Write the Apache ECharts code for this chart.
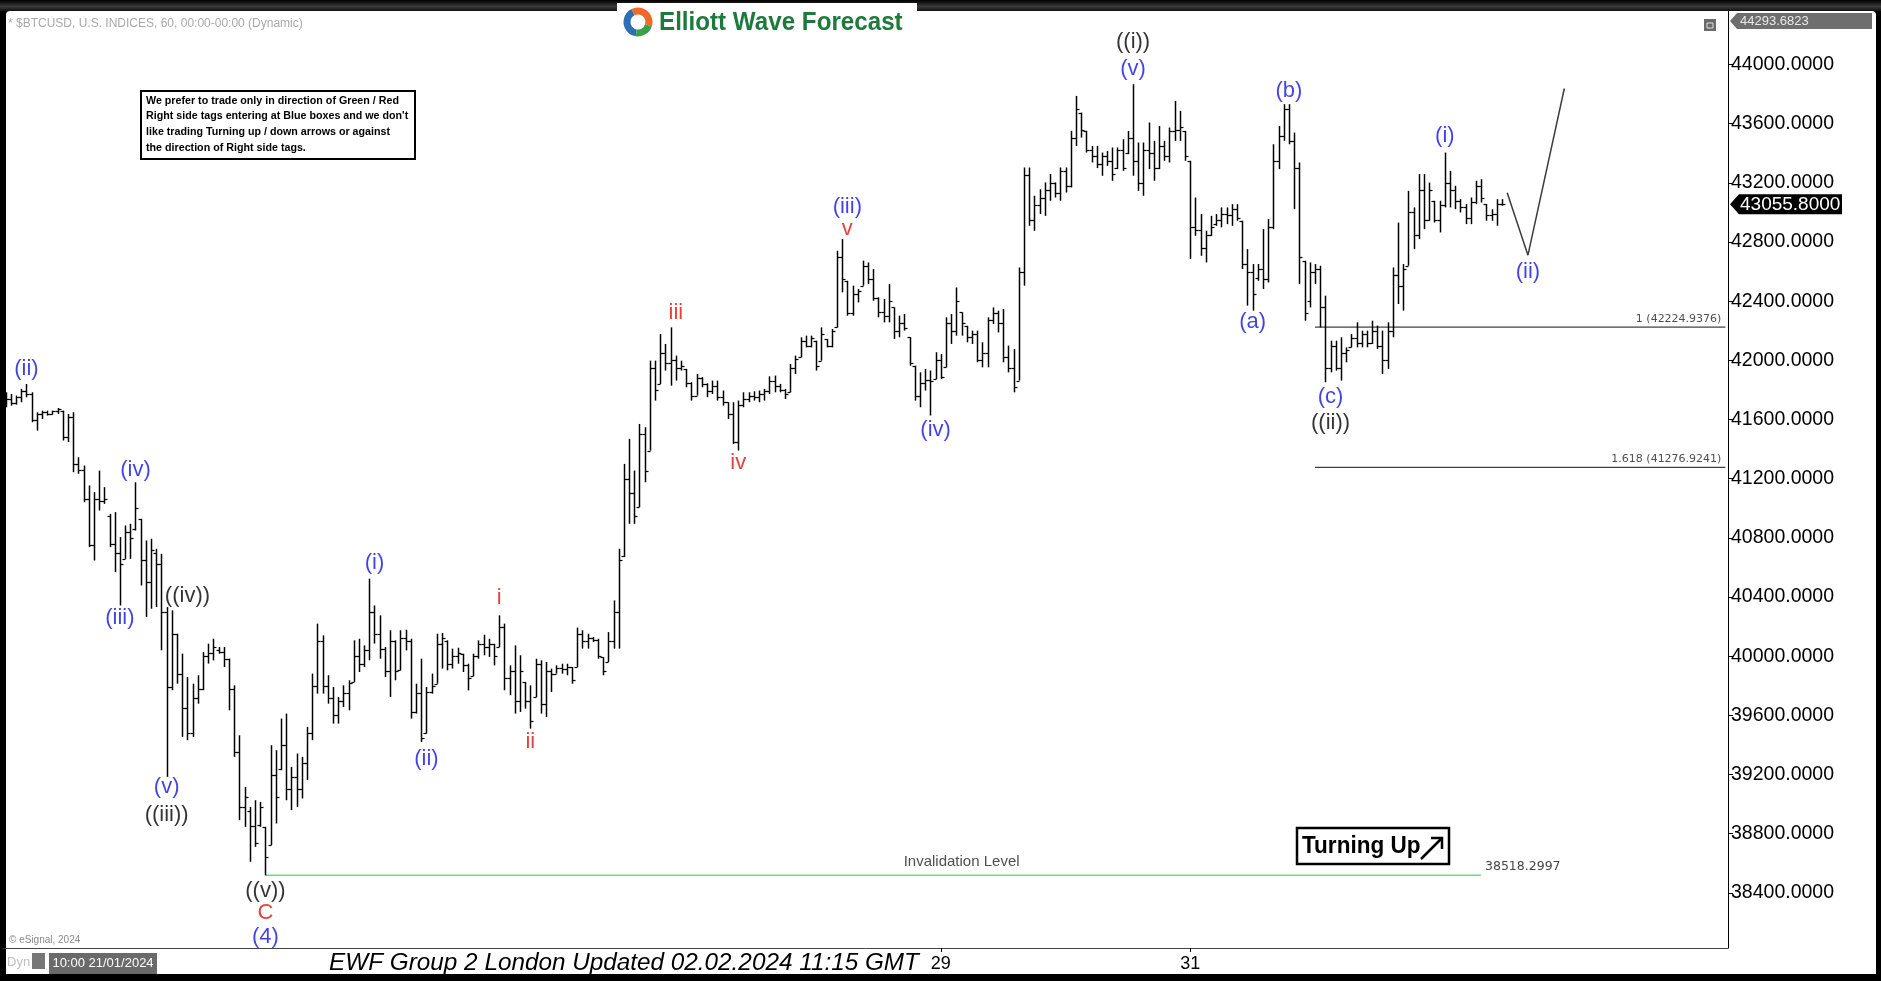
<!DOCTYPE html>
<html><head><meta charset="utf-8">
<script src="https://cdn.jsdelivr.net/npm/echarts@6/dist/echarts.min.js"></script>
<style>html,body{margin:0;padding:0;background:#000;}#c{width:1881px;height:981px;}</style>
</head><body><div id="c"></div>
<script>
// ---------- DATA ----------
const highs = [
41784,41773,41762,41807,41840,41784,41649,41660,41660,41660,
41678,41660,41638,41649,41345,41289,41154,41109,41255,41143,
40962,40974,40805,40884,40895,41176,40929,40782,40794,40726,
40692,40332,40310,40152,40017,39859,39814,39871,40028,40085,
40118,40062,40062,39983,39803,39465,39116,38981,39026,39015,
38846,39398,39364,39578,39612,39252,39342,39319,39522,39882,
40220,40141,39871,39792,39724,39803,39837,40107,40118,40073,
40524,40343,40276,40062,40175,40107,40175,40179,40118,39814,
39983,39792,39882,40152,40157,40107,40051,40057,40017,39949,
40017,40107,40145,40118,40084,40276,40220,39938,40073,40006,
39826,39803,39983,39972,39961,39916,39938,39949,39949,39927,
40193,40175,40152,40130,40118,39994,40163,40377,40726,41300,
41469,41255,41570,41548,41998,41998,42178,42111,42223,42032,
41998,41942,41852,41908,41886,41845,41863,41863,41796,41717,
41717,41728,41784,41784,41791,41796,41807,41892,41897,41841,
41807,41976,42032,42156,42167,42167,42133,42223,42145,42212,
42741,42820,42538,42505,42482,42674,42662,42617,42426,42415,
42516,42358,42302,42313,42156,41964,41919,41942,41931,42055,
42043,42291,42313,42493,42324,42234,42201,42201,42122,42291,
42358,42336,42347,42100,42077,42628,43304,43304,43113,43157,
43203,43259,43203,43304,43304,43552,43788,43675,43552,43450,
43450,43405,43416,43439,43439,43495,43551,43867,43473,43473,
43608,43484,43585,43484,43574,43754,43687,43551,43349,43101,
42989,42876,42977,42989,43034,43034,43056,43056,42944,42752,
42651,42651,42887,42955,43461,43585,43732,43732,43540,43338,
42673,42662,42651,42640,42437,42133,42133,42156,42088,42178,
42257,42201,42201,42268,42235,42201,42257,42628,42932,42651,
43146,43034,43259,43259,43202,43079,43079,43405,43281,43180,
43090,43056,43101,43214,43225,43056,43022,43090,43090];
const lows = [
41683,41694,41701,41717,41750,41582,41525,41604,41627,41633,
41638,41458,41447,41244,41233,41041,40737,40647,40985,41030,
40737,40568,40343,40658,40658,40850,40478,40265,40321,40332,
40040,39184,39770,39814,39454,39432,39454,39679,39770,39950,
39972,40017,39927,39634,39319,38891,38846,38610,38711,38846,
38518,38723,38869,39229,39026,38959,38981,39038,39162,39432,
39747,39747,39679,39544,39544,39657,39634,39826,39893,39927,
39972,40085,39983,39859,39724,39837,39904,40039,39578,39612,
39420,39477,39747,39814,39916,39904,39916,39949,39893,39769,
39864,39983,40006,39995,39938,40062,39769,39736,39612,39623,
39645,39510,39724,39612,39589,39758,39882,39882,39871,39814,
39927,40051,40051,40096,39983,39871,39961,40051,40051,40670,
40895,40895,41008,41176,41390,41728,41840,41931,41829,41863,
41931,41818,41728,41762,41818,41751,41773,41728,41694,41604,
41435,41390,41683,41717,41728,41717,41728,41773,41784,41784,
41739,41784,41908,42021,42088,42088,41931,41998,42088,42088,
42223,42460,42302,42302,42392,42505,42516,42403,42291,42257,
42257,42145,42156,42201,41964,41728,41683,41796,41627,41874,
41874,41953,42111,42167,42167,42122,42111,41987,41953,41953,
42246,42189,41987,41919,41784,41863,42505,42910,42876,42989,
42977,43079,43101,43079,43135,43169,43450,43506,43405,43338,
43300,43248,43315,43214,43293,43281,43394,43248,43146,43113,
43293,43214,43293,43349,43338,43484,43484,43349,42685,42842,
42707,42662,42842,42910,42899,42921,42910,42944,42617,42370,
42336,42538,42482,42527,42887,43293,43484,43461,43022,42516,
42268,42358,42516,42223,41852,41919,41931,41863,41987,42088,
42088,42088,42088,42111,42077,41908,41942,42156,42381,42336,
42640,42752,42820,42887,42944,42932,42865,43034,43034,43022,
43000,42921,42921,43056,43067,42944,42944,42910,43045];
const opens = [
41700,41740,41710,41750,41790,41770,41600,41640,41650,41640,
41655,41660,41480,41620,41300,41260,41060,40750,41060,41050,
40950,40760,40700,40660,40840,40860,40929,40650,40500,40700,
40620,40300,39790,40150,39880,39650,39480,39720,39780,40000,
40020,40040,40030,39980,39780,39350,38980,38950,38850,38860,
38846,38723,39200,39240,39400,39100,39180,39100,39280,39480,
39800,40100,39800,39720,39600,39700,39750,39826,40000,39950,
40040,40300,40150,40050,39900,40100,39904,40120,40100,39620,
39750,39480,39760,39814,40080,40100,39950,40000,40017,39940,
39864,40000,40080,40060,40080,40062,40200,39850,39900,39700,
39826,39700,39724,39950,39680,39900,39882,39920,39910,39927,
39927,40150,40100,40120,40110,39994,39961,40100,40300,40680,
41200,41100,41008,41500,41390,41950,41840,42050,41980,42000,
41950,41942,41850,41762,41880,41840,41790,41830,41750,41717,
41640,41450,41700,41740,41760,41750,41770,41790,41860,41830,
41800,41784,41950,42021,42130,42100,42133,41998,42145,42100,
42223,42700,42538,42320,42450,42505,42640,42550,42420,42330,
42300,42358,42200,42250,42156,41964,41760,41850,41870,41874,
42000,41953,42250,42200,42324,42234,42160,42180,42000,42050,
42270,42320,42250,42020,41950,41863,42600,43250,42950,43050,
43100,43150,43200,43130,43280,43180,43500,43675,43552,43420,
43380,43330,43380,43350,43300,43420,43400,43500,43350,43200,
43420,43400,43300,43450,43380,43550,43560,43551,43349,42900,
42880,42760,42850,42920,42950,42990,42980,43020,42944,42650,
42600,42560,42620,42550,42900,43350,43520,43700,43480,43300,
42673,42400,42600,42620,42360,41950,42100,41950,42050,42088,
42150,42120,42180,42120,42200,42100,42000,42200,42580,42500,
42640,43000,42850,43150,42950,43079,42950,43050,43200,43150,
43080,43040,42960,43070,43180,43056,42980,42990,43060];
const closes = [
41740,41710,41750,41790,41770,41600,41640,41650,41640,41655,
41670,41480,41620,41300,41260,41060,40750,41060,41050,41060,
40760,40700,40620,40840,40800,41000,40650,40500,40720,40620,
40300,39790,40150,39880,39650,39480,39720,39780,40000,40020,
40060,40030,39980,39780,39350,38980,39050,38850,38740,38980,
38640,39200,39050,39400,39100,39180,39100,39280,39480,39800,
40100,39800,39720,39600,39700,39750,39820,40000,39950,40040,
40300,40150,40050,39900,40100,39900,40120,40100,39620,39750,
39450,39760,39800,40080,40120,39950,40000,40020,39940,39850,
40000,40080,40060,40080,40000,40200,39850,39900,39700,39900,
39700,39560,39950,39680,39900,39880,39920,39910,39930,39840,
40150,40100,40120,40110,40000,39900,40100,40300,40650,41200,
41100,40950,41500,41250,41950,41800,42050,41980,42000,41950,
41960,41850,41760,41880,41840,41790,41830,41750,41720,41640,
41450,41700,41740,41760,41750,41770,41790,41860,41830,41800,
41770,41950,42010,42130,42100,42150,41960,42180,42100,42200,
42700,42550,42320,42450,42470,42640,42550,42420,42330,42300,
42400,42200,42250,42220,41980,41760,41850,41870,41860,42000,
41890,42250,42200,42400,42250,42160,42180,42000,42050,42270,
42320,42250,42020,41950,41820,42600,43250,42950,43050,43100,
43150,43200,43130,43280,43180,43500,43700,43560,43420,43380,
43330,43380,43350,43260,43420,43300,43500,43350,43200,43420,
43400,43300,43450,43380,43550,43560,43580,43380,42900,42880,
42760,42850,42900,42950,42990,42980,43020,42960,42650,42600,
42450,42620,42550,42900,43350,43520,43700,43480,43300,42700,
42320,42600,42620,42360,41950,42100,41950,42050,42070,42150,
42120,42180,42120,42200,42100,42000,42200,42580,42500,42620,
43000,42850,43150,42950,43150,42950,43050,43200,43150,43080,
43040,42960,43070,43180,43100,42980,42990,43060,43055.8];

// wave labels (bar index, price level, text, colour key)
const waveText  = ['(ii)','(iv)','(iii)','((iv))','(v)','((iii))','((v))','C','(4)','(i)','(ii)','i','ii','iii','iv','(iii)','v','(iv)','((i))','(v)','(a)','(b)','(c)','((ii))','(i)','(ii)'];
const waveBar   = [4,25,22,35,31,31,50,50,50,71,81,95,101,129,141,162,162,179,217,217,240,247,255,255,277,293];
const wavePrice = [41941,41261,40256,40410,39113,38926,38416,38262,38100,40628,39307,40394,39421,42322,41309,43036,42890,41528,44154,43968,42257,43822,41755,41577,43514,42598];
const waveKind  = ['b','b','b','k','b','k','k','r','b','b','b','r','r','r','r','b','r','b','k','b','b','b','b','k','b','b'];

// levels
const invalidationLevel = 38518.2997;
const invalidationBars = [50, 284];
const fibLevels = [42224.9376, 41276.9241];
const fibTexts = ['1 (42224.9376)', '1.618 (41276.9241)'];
const fibBars = [252, 331];
const projBars = [289, 293, 300];
const projPrices = [43133, 42711, 43838];
const lastPrice = 43055.8;
const topPrice = 44293.6823;

// axes
const yTicks = [38400,38800,39200,39600,40000,40400,40800,41200,41600,42000,42400,42800,43200,43600,44000];
const dayLabelTimes = ['2024-01-29 00:00','2024-01-31 00:00'];
const dayLabels = ['29','31'];
const nSlots = 332;
const startTime = Date.UTC(2024,0,21,12);
const cats = [];
for (let i = 0; i < nSlots; i++) {
  const d = new Date(startTime + i * 3600e3);
  cats.push(d.toISOString().slice(0,13).replace('T',' ') + ':00');
}

// ---------- CHART ----------
const FONT = 'Arial, "Liberation Sans", sans-serif';
const colors = {b:'#1414dc', k:'#000000', r:'#e01010'};
const chart = echarts.init(document.getElementById('c'), null, {renderer:'canvas'});

const ohlc = highs.map((h,i)=>[i, opens[i], closes[i], lows[i], h]);

function renderOHLC(params, api){
  const k = api.value(0);
  const o = api.coord([k, api.value(1)]);
  const c = api.coord([k, api.value(2)]);
  const l = api.coord([k, api.value(3)]);
  const h = api.coord([k, api.value(4)]);
  const x = Math.round(h[0]) + 0.5;
  const t = 3;
  return {type:'group', children:[
    {type:'line', shape:{x1:x,y1:h[1],x2:x,y2:l[1]}, style:{stroke:'#000', lineWidth:1.5}},
    {type:'line', shape:{x1:x-t,y1:Math.round(o[1])+0.5,x2:x,y2:Math.round(o[1])+0.5}, style:{stroke:'#000', lineWidth:1.2}},
    {type:'line', shape:{x1:x,y1:Math.round(c[1])+0.5,x2:x+t,y2:Math.round(c[1])+0.5}, style:{stroke:'#000', lineWidth:1.2}}
  ]};
}

const dayFilter = (idx, val) => dayLabelTimes.indexOf(val) >= 0;

const waveData = waveText.map((t,i)=>({
  value:[waveBar[i], wavePrice[i]],
  label:{formatter:t, color:colors[waveKind[i]]}
}));

const textData = [
  {value:[184, invalidationLevel], label:{formatter:'Invalidation Level', fontSize:15, color:'#222', offset:[0,-13]}},
  {value:[292, invalidationLevel], label:{formatter:invalidationLevel.toFixed(4), fontSize:12.5, color:'#111', fontFamily:'"DejaVu Sans", Verdana, sans-serif', offset:[0,-9]}},
  {value:[fibBars[1], fibLevels[0]], label:{formatter:fibTexts[0], fontSize:11, color:'#222', fontFamily:'"DejaVu Sans", Verdana, sans-serif', align:'right', offset:[-4,-8]}},
  {value:[fibBars[1], fibLevels[1]], label:{formatter:fibTexts[1], fontSize:11, color:'#222', fontFamily:'"DejaVu Sans", Verdana, sans-serif', align:'right', offset:[-4,-8]}}
];

const baseGraphics = [
  {type:'rect', z:-10, shape:{x:0,y:0,width:1881,height:981}, style:{fill:'#000'}},
  {type:'rect', z:-9, shape:{x:0,y:0,width:1881,height:11}, style:{fill:new echarts.graphic.LinearGradient(0,0,0,1,[{offset:0,color:'#000'},{offset:0.6,color:'#3a3a3a'},{offset:1,color:'#111'}])}},
  {type:'rect', z:-8, shape:{x:6,y:11,width:1870,height:963, r:[4,4,0,0]}, style:{fill:'#fff'}},
  // logo
  {type:'rect', z:-7, shape:{x:617,y:3,width:300,height:34}, style:{fill:'#fff'}},
  {type:'arc', shape:{cx:638,cy:22,r:11,startAngle:Math.PI*0.55,endAngle:Math.PI*1.35}, style:{stroke:'#2f6db5',lineWidth:7,fill:null}},
  {type:'arc', shape:{cx:638,cy:22,r:11,startAngle:Math.PI*1.35,endAngle:Math.PI*2.1}, style:{stroke:'#ef6a2a',lineWidth:7,fill:null}},
  {type:'arc', shape:{cx:638,cy:22,r:11,startAngle:Math.PI*0.1,endAngle:Math.PI*0.55}, style:{stroke:'#3aa04a',lineWidth:7,fill:null}},
  {type:'text', x:659, y:23, scaleX:0.93, style:{text:'Elliott Wave Forecast', font:'bold 26px '+FONT, fill:'#1e7a3c', textVerticalAlign:'middle'}},
  // header
  {type:'text', x:8, y:24, style:{text:'* $BTCUSD, U.S. INDICES, 60, 00:00-00:00 (Dynamic)', font:'12px '+FONT, fill:'#a8a8a8', textVerticalAlign:'middle'}},
  // info box
  {type:'rect', shape:{x:141,y:91,width:274,height:68}, style:{fill:'#fff', stroke:'#000', lineWidth:2}},
  {type:'text', x:146, y:101, scaleX:0.93, style:{text:'We prefer to trade only in direction of Green / Red', font:'bold 11.5px '+FONT, fill:'#000', textVerticalAlign:'middle'}},
  {type:'text', x:146, y:116, scaleX:0.93, style:{text:"Right side tags entering at Blue boxes and we don't", font:'bold 11.5px '+FONT, fill:'#000', textVerticalAlign:'middle'}},
  {type:'text', x:146, y:132, scaleX:0.93, style:{text:'like trading Turning up / down arrows or against', font:'bold 11.5px '+FONT, fill:'#000', textVerticalAlign:'middle'}},
  {type:'text', x:146, y:148, scaleX:0.93, style:{text:'the direction of Right side tags.', font:'bold 11.5px '+FONT, fill:'#000', textVerticalAlign:'middle'}},
  // turning up box
  {type:'rect', shape:{x:1297,y:828,width:152,height:36}, style:{fill:'#fff', stroke:'#000', lineWidth:2.5}},
  {type:'text', x:1302, y:847, scaleX:0.98, style:{text:'Turning Up', font:'bold 23px '+FONT, fill:'#000', textVerticalAlign:'middle'}},
  {type:'polyline', shape:{points:[[1421,859],[1442,838]]}, style:{stroke:'#000', lineWidth:2.5}},
  {type:'polyline', shape:{points:[[1431,838],[1442,838],[1442,849]]}, style:{stroke:'#000', lineWidth:2.5, fill:null}},
  // top right icon
  {type:'rect', shape:{x:1704,y:19,width:12,height:12}, style:{fill:'#6a6a6a'}},
  {type:'rect', shape:{x:1707,y:23,width:6,height:5}, style:{fill:null, stroke:'#ddd', lineWidth:1}},
  // bottom area
  {type:'text', x:9, y:940, style:{text:'© eSignal, 2024', font:'10px '+FONT, fill:'#888', textVerticalAlign:'middle'}},
  {type:'text', x:7, y:962, style:{text:'Dyn', font:'13px '+FONT, fill:'#c0c0c0', textVerticalAlign:'middle'}},
  {type:'rect', shape:{x:32,y:953,width:13,height:16}, style:{fill:'#777'}},
  {type:'rect', shape:{x:49,y:953,width:108,height:21}, style:{fill:'#6a6a6a'}},
  {type:'text', x:103, y:963, style:{text:'10:00 21/01/2024', font:'13px '+FONT, fill:'#fff', textAlign:'center', textVerticalAlign:'middle'}},
  {type:'text', x:624, y:963, style:{text:'EWF Group 2 London Updated 02.02.2024 11:15 GMT', font:'italic 24.3px '+FONT, fill:'#000', textAlign:'center', textVerticalAlign:'middle'}}
];

const option = {
  animation:false,
  backgroundColor:'transparent',
  grid:{left:3, top:11, width:1725, height:937, show:false},
  xAxis:{
    type:'category', data:cats, boundaryGap:true,
    axisLine:{show:true, lineStyle:{color:'#444', width:1}},
    axisTick:{show:true, interval:dayFilter, alignWithLabel:true, length:4, lineStyle:{color:'#000'}},
    axisLabel:{show:true, interval:dayFilter, margin:7, fontSize:18, color:'#000', fontFamily:FONT,
      formatter:(v)=>{const i=dayLabelTimes.indexOf(v); return i>=0?dayLabels[i]:'';}},
    splitLine:{show:false}
  },
  yAxis:{
    type:'value', position:'right', min:38027, max:44362, scale:true,
    axisLine:{show:true, lineStyle:{color:'#000', width:1}},
    axisTick:{show:true, customValues:yTicks, length:5, lineStyle:{color:'#000'}},
    axisLabel:{show:true, customValues:yTicks, margin:3, fontSize:19.5, color:'#000', fontFamily:FONT,
      formatter:(v)=>Number(v).toFixed(4)},
    splitLine:{show:false}
  },
  series:[
    {type:'custom', name:'BTCUSD', renderItem:renderOHLC, data:ohlc, encode:{x:0, y:[1,2,3,4]}, z:5},
    {type:'line', data:[[invalidationBars[0], invalidationLevel],[invalidationBars[1], invalidationLevel]], showSymbol:false, symbol:'none', lineStyle:{color:'#6fe06f', width:1.5}, z:3},
    {type:'line', data:[[fibBars[0], fibLevels[0]],[fibBars[1], fibLevels[0]]], showSymbol:false, symbol:'none', lineStyle:{color:'#111', width:1}, z:3},
    {type:'line', data:[[fibBars[0], fibLevels[1]],[fibBars[1], fibLevels[1]]], showSymbol:false, symbol:'none', lineStyle:{color:'#111', width:1}, z:3},
    {type:'line', data:projBars.map((b,i)=>[b, projPrices[i]]), showSymbol:false, symbol:'none', lineStyle:{color:'#3c3c3c', width:1.5}, z:3},
    {type:'scatter', data:waveData, symbolSize:0, clip:false, z:6,
      label:{show:true, position:'inside', fontSize:22, fontFamily:FONT}},
    {type:'scatter', data:textData, symbolSize:0, clip:false, z:6,
      label:{show:true, position:'inside', fontFamily:FONT}}
  ],
  graphic:{elements:baseGraphics}
};
chart.setOption(option);

const yCur = chart.convertToPixel({yAxisIndex:0}, lastPrice);
const yTop = chart.convertToPixel({yAxisIndex:0}, topPrice);
const tagGraphics = [
  {type:'polygon', shape:{points:[[1730,yTop],[1737,yTop-8],[1872,yTop-8],[1872,yTop+8],[1737,yTop+8]]}, style:{fill:'#6e6e6e'}},
  {type:'text', x:1740, y:yTop, style:{text:topPrice.toFixed(4), font:'13px '+FONT, fill:'#e8e8e8', textVerticalAlign:'middle'}},
  {type:'polygon', shape:{points:[[1730,yCur],[1739,yCur-10],[1842,yCur-10],[1842,yCur+10],[1739,yCur+10]]}, style:{fill:'#000'}},
  {type:'text', x:1740, y:yCur+1, style:{text:lastPrice.toFixed(4), font:'19px '+FONT, fill:'#fff', textVerticalAlign:'middle'}}
];
chart.setOption({graphic:{elements:baseGraphics.concat(tagGraphics)}});
</script>
</body></html>
